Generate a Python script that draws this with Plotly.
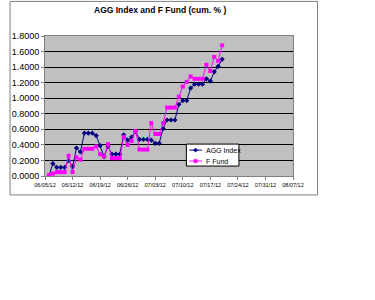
import plotly.graph_objects as go

dates = ["2012-06-%02d" % d for d in range(6, 31)] + ["2012-07-%02d" % d for d in range(1, 21)]
agg_index = [0.00, 0.16, 0.11, 0.11, 0.11, 0.20, 0.12, 0.36, 0.31, 0.55,
             0.55, 0.55, 0.52, 0.39, 0.25, 0.38, 0.28, 0.28, 0.28, 0.53,
             0.46, 0.50, 0.57, 0.47, 0.47, 0.47, 0.46, 0.42, 0.42, 0.61,
             0.72, 0.72, 0.72, 0.92, 0.97, 0.97, 1.13, 1.18, 1.18, 1.18,
             1.25, 1.22, 1.34, 1.41, 1.50]
f_fund = [0.01, 0.03, 0.05, 0.05, 0.05, 0.26, 0.05, 0.24, 0.21, 0.35,
          0.35, 0.35, 0.38, 0.28, 0.25, 0.41, 0.23, 0.23, 0.23, 0.50,
          0.40, 0.45, 0.58, 0.34, 0.34, 0.34, 0.68, 0.54, 0.54, 0.68,
          0.88, 0.88, 0.88, 1.02, 1.15, 1.21, 1.28, 1.25, 1.25, 1.25,
          1.43, 1.35, 1.53, 1.48, 1.68]
x_ticks = ["2012-06-05", "2012-06-12", "2012-06-19", "2012-06-26", "2012-07-03",
           "2012-07-10", "2012-07-17", "2012-07-24", "2012-07-31", "2012-08-07"]
x_labels = ["06/05/12", "06/12/12", "06/19/12", "06/26/12", "07/03/12",
            "07/10/12", "07/17/12", "07/24/12", "07/31/12", "08/07/12"]
y_ticks = [0.0, 0.2, 0.4, 0.6, 0.8, 1.0, 1.2, 1.4, 1.6, 1.8]
series_names = ["AGG Index", "F Fund"]
series_colors = ["#000080", "#FF00FF"]

fig = go.Figure()
fig.add_trace(go.Scatter(x=dates, y=agg_index, name=series_names[0], mode="lines+markers",
                         line=dict(color=series_colors[0], width=1),
                         marker=dict(symbol="diamond", size=4, color=series_colors[0])))
fig.add_trace(go.Scatter(x=dates, y=f_fund, name=series_names[1], mode="lines+markers",
                         line=dict(color=series_colors[1], width=1),
                         marker=dict(symbol="square", size=4, color=series_colors[1])))

# compact legend box (Excel style), drawn in paper coordinates
lx0, lx1, ly0, ly1 = 0.570, 0.782, 0.071, 0.228
rows = [0.185, 0.107]
seg0, seg1, mk = 0.582, 0.633, 0.607
dx, dy = 0.0082, 0.0150
shapes = [dict(type="rect", xref="paper", yref="paper",
               x0=-0.141, x1=1.099, y0=-0.135, y1=1.247,
               line=dict(color="#808080", width=1), fillcolor="rgba(0,0,0,0)"),
          dict(type="rect", xref="paper", yref="paper", x0=lx0, x1=lx1, y0=ly0, y1=ly1,
               line=dict(color="black", width=1), fillcolor="white")]
annotations = []
for i, ry in enumerate(rows):
    c = series_colors[i]
    shapes.append(dict(type="line", xref="paper", yref="paper", x0=seg0, x1=seg1,
                       y0=ry, y1=ry, line=dict(color=c, width=1)))
    if i == 0:
        shapes.append(dict(type="path", xref="paper", yref="paper",
                           path=f"M {mk-dx},{ry} L {mk},{ry+dy} L {mk+dx},{ry} L {mk},{ry-dy} Z",
                           line=dict(color=c, width=0.5), fillcolor=c))
    else:
        shapes.append(dict(type="rect", xref="paper", yref="paper",
                           x0=mk-dx*0.8, x1=mk+dx*0.8, y0=ry-dy*0.8, y1=ry+dy*0.8,
                           line=dict(color=c, width=0.5), fillcolor=c))
    annotations.append(dict(xref="paper", yref="paper", x=0.641, y=ry, text=series_names[i],
                            showarrow=False, xanchor="left", yanchor="middle",
                            font=dict(size=7, color="black")))

fig.update_layout(
    width=375, height=300,
    margin=dict(l=38, r=82, t=36, b=124),
    paper_bgcolor="white", plot_bgcolor="#C0C0C0",
    font=dict(family="Arial, Liberation Sans", color="black"),
    title=dict(text="<b>AGG Index and F Fund (cum. % )</b>", x=0.427, xanchor="center",
               y=0.975, yanchor="top", font=dict(size=8.5)),
    showlegend=False,
    shapes=shapes,
    annotations=annotations,
)
fig.update_xaxes(type="date", range=["2012-06-05", "2012-08-07"],
                 tickvals=x_ticks, ticktext=x_labels, tickfont=dict(size=5.5),
                 showgrid=False, showline=True, linecolor="#808080", linewidth=1,
                 ticks="outside", ticklen=3, tickcolor="#808080", mirror=True, tickangle=0)
fig.update_yaxes(range=[0, 1.8], tickvals=y_ticks, tickformat=".4f", tickfont=dict(size=9),
                 showgrid=True, gridcolor="black", gridwidth=1, zeroline=False,
                 showline=True, linecolor="#808080", linewidth=1, mirror=True,
                 ticks="outside", ticklen=3, tickcolor="#808080")

fig.write_html("out.html")
